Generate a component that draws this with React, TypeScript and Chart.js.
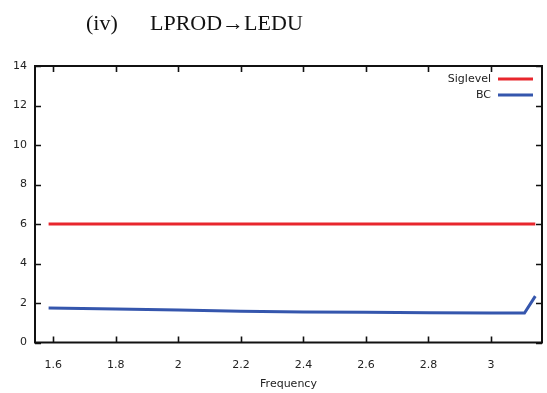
import React, { useEffect, useRef } from "react";
import { Chart, registerables } from "chart.js";

Chart.register(...registerables);

// ---- data ----
const BC_FREQ = [1.585, 1.8, 2.0, 2.2, 2.4, 2.6, 2.8, 3.0, 3.107, 3.1416];
const BC_VALUES = [1.75, 1.7, 1.64, 1.58, 1.55, 1.53, 1.51, 1.5, 1.49, 2.35];
const SIG_FREQ = [1.585, 3.1416];
const SIG_VALUES = [6, 6];
const X_TICKS = [1.6, 1.8, 2.0, 2.2, 2.4, 2.6, 2.8, 3.0];
const Y_TICKS = [0, 2, 4, 6, 8, 10, 12, 14];
const SERIES_LABELS = ["Siglevel", "BC"];
const SERIES_COLORS = ["#e8262d", "#3556ad"];
const X_TITLE = "Frequency";
const TITLE_LEFT = "(iv)";
const TITLE_RIGHT = "LPROD→LEDU";

const FONT = "'DejaVu Sans', sans-serif";

const framePlugin = {
  id: "gnuFrame",
  afterDraw(chart: any) {
    const { ctx, chartArea } = chart;
    const { left, right, top, bottom } = chartArea;
    const xs = chart.scales.x;
    const ys = chart.scales.y;
    ctx.save();
    ctx.strokeStyle = "#111";
    ctx.lineWidth = 2;
    ctx.strokeRect(left, top, right - left, bottom - top);
    ctx.lineWidth = 1.6;
    const tl = 6;
    ctx.beginPath();
    X_TICKS.forEach((v) => {
      const px = Math.round(xs.getPixelForValue(v)) + 0.5;
      ctx.moveTo(px, bottom);
      ctx.lineTo(px, bottom - tl);
      ctx.moveTo(px, top);
      ctx.lineTo(px, top + tl);
    });
    Y_TICKS.forEach((v) => {
      const py = Math.round(ys.getPixelForValue(v)) + 0.5;
      ctx.moveTo(left, py);
      ctx.lineTo(left + tl, py);
      ctx.moveTo(right, py);
      ctx.lineTo(right - tl, py);
    });
    ctx.stroke();

    // legend (text then line sample, gnuplot style)
    ctx.font = "11px " + FONT;
    ctx.textAlign = "right";
    ctx.textBaseline = "middle";
    const rows = [79, 95];
    chart.data.datasets.forEach((ds: any, i: number) => {
      const y = rows[i];
      ctx.fillStyle = "#222";
      ctx.fillText(ds.label, 491, y);
      ctx.strokeStyle = ds.borderColor;
      ctx.lineWidth = 3;
      ctx.beginPath();
      ctx.moveTo(498, y);
      ctx.lineTo(533, y);
      ctx.stroke();
    });
    ctx.restore();
  },
};

export default function App() {
  const ref = useRef<HTMLCanvasElement>(null);
  useEffect(() => {
    if (!ref.current) return;
    const chart = new Chart(ref.current, {
      type: "line",
      data: {
        datasets: [
          {
            label: SERIES_LABELS[0],
            data: SIG_FREQ.map((x, i) => ({ x, y: SIG_VALUES[i] })),
            borderColor: SERIES_COLORS[0],
            borderWidth: 3,
            pointRadius: 0,
            tension: 0,
          },
          {
            label: SERIES_LABELS[1],
            data: BC_FREQ.map((x, i) => ({ x, y: BC_VALUES[i] })),
            borderColor: SERIES_COLORS[1],
            borderWidth: 3,
            pointRadius: 0,
            tension: 0,
          },
        ],
      },
      options: {
        animation: false,
        responsive: false,
        maintainAspectRatio: false,
        layout: { padding: { top: 66, right: 5, left: 0, bottom: 0 } },
        plugins: {
          legend: { display: false },
          tooltip: { enabled: false },
          title: { display: false },
        },
        scales: {
          x: {
            type: "linear",
            min: 1.5415,
            max: 3.163,
            afterBuildTicks: (s: any) => {
              s.ticks = X_TICKS.map((v) => ({ value: v }));
            },
            afterFit: (s: any) => {
              s.height = 393 - 342.5;
            },
            grid: { display: false, drawTicks: false },
            border: { display: false },
            ticks: {
              padding: 16,
              color: "#222",
              font: { family: FONT, size: 11 },
              maxRotation: 0,
              autoSkip: false,
              callback: (v: any) => String(Math.round(Number(v) * 10) / 10),
            },
            title: {
              display: true,
              text: X_TITLE,
              color: "#222",
              font: { family: FONT, size: 11 },
              padding: { top: 2, bottom: 2 },
            },
          },
          y: {
            type: "linear",
            min: 0,
            max: 14,
            afterBuildTicks: (s: any) => {
              s.ticks = Y_TICKS.map((v) => ({ value: v }));
            },
            afterFit: (s: any) => {
              s.width = 35;
            },
            grid: { display: false, drawTicks: false },
            border: { display: false },
            ticks: {
              padding: 8,
              color: "#222",
              font: { family: FONT, size: 11 },
            },
          },
        },
      },
      plugins: [framePlugin],
    });
    return () => chart.destroy();
  }, []);

  const titleStyle: React.CSSProperties = {
    position: "absolute",
    top: 11,
    fontFamily: "'Liberation Serif', 'Times New Roman', serif",
    fontSize: 22,
    lineHeight: "24px",
    color: "#111",
    whiteSpace: "nowrap",
  };

  return (
    <div style={{ position: "absolute", left: 0, top: 0, width: 547, height: 393, background: "#fff" }}>
      <canvas ref={ref} width={547} height={393} style={{ position: "absolute", left: 0, top: 0 }} />
      <div style={{ ...titleStyle, left: 86 }}>{TITLE_LEFT}</div>
      <div style={{ ...titleStyle, left: 150 }}>{TITLE_RIGHT}</div>
    </div>
  );
}
